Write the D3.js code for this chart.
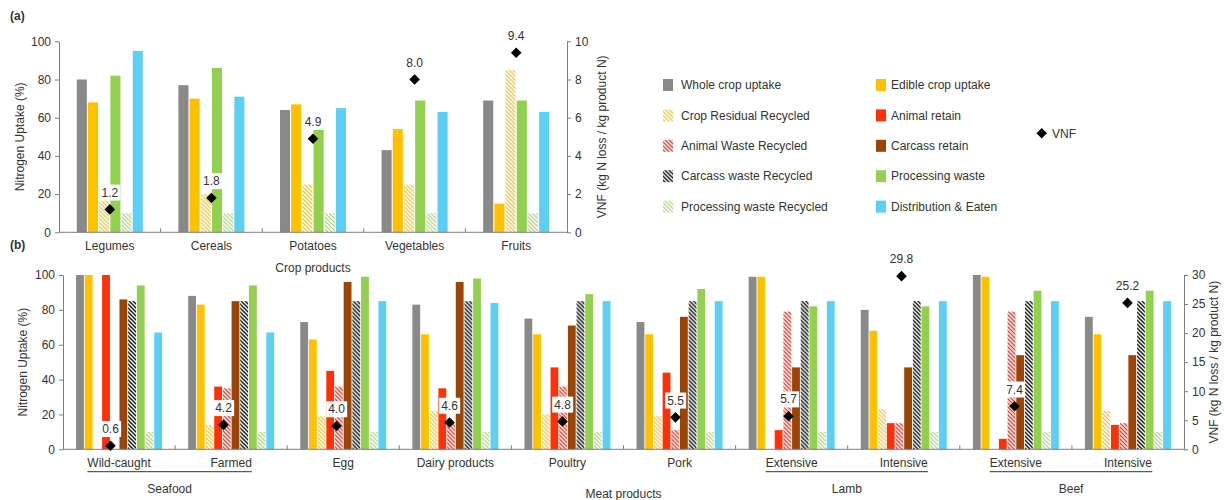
<!DOCTYPE html>
<html>
<head>
<meta charset="utf-8">
<script src="https://cdn.jsdelivr.net/npm/d3@7"></script>
<style>
  body { margin: 0; background: #fff; }
  text { font-family: "Liberation Sans", Arial, sans-serif; fill: #333; }
</style>
</head>
<body>
<svg id="chart" width="1224" height="500"></svg>
<script>
// ---- data: panel (a) crop products ----
const cropCategories = ["Legumes", "Cereals", "Potatoes", "Vegetables", "Fruits"];
const cropSeries = ["Whole crop uptake", "Edible crop uptake", "Crop Residual Recycled",
  "Processing waste", "Processing waste Recycled", "Distribution & Eaten"];
const cropWhole = [80, 77, 64, 43, 69];
const cropEdible = [68, 70, 67, 54, 15];
const cropResidual = [23, 20, 25, 25, 85];
const cropProcessing = [82, 86, 55, 69, 69];
const cropProcessingRecycled = [10, 10, 10, 10, 10];
const cropDistribution = [95, 71, 65, 63, 63];
const cropVNF = [1.2, 1.8, 4.9, 8.0, 9.4];

// ---- data: panel (b) animal products ----
const animalCategories = ["Wild-caught", "Farmed", "Egg", "Dairy products", "Poultry", "Pork",
  "Extensive", "Intensive", "Extensive", "Intensive"];
const animalSeries = ["Whole crop uptake", "Edible crop uptake", "Crop Residual Recycled",
  "Animal retain", "Animal Waste Recycled", "Carcass retain", "Carcass waste Recycled",
  "Processing waste", "Processing waste Recycled", "Distribution & Eaten"];
const animalWhole = [100, 88, 73, 83, 75, 73, 99, 80, 100, 76];
const animalEdible = [100, 83, 63, 66, 66, 66, 99, 68, 99, 66];
const animalResidual = [0, 14, 19, 22, 20, 19, 0, 23, 0, 22];
const animalRetain = [100, 36, 45, 35, 47, 44, 11, 15, 6, 14];
const animalWaste = [0, 35, 36, 15, 36, 11, 79, 15, 79, 15];
const carcassRetain = [86, 85, 96, 96, 71, 76, 47, 47, 54, 54];
const carcassWaste = [85, 85, 85, 85, 85, 85, 85, 85, 85, 85];
const animalProcessing = [94, 94, 99, 98, 89, 92, 82, 82, 91, 91];
const animalProcessingRecycled = [10, 10, 10, 10, 10, 10, 10, 10, 10, 10];
const animalDistribution = [67, 67, 85, 84, 85, 85, 85, 85, 85, 85];
const animalVNF = [0.6, 4.2, 4.0, 4.6, 4.8, 5.5, 5.7, 29.8, 7.4, 25.2];

const groupNames = ["Seafood", "Lamb", "Beef"];
const groupMembers = [[0, 1], [6, 7], [8, 9]];

// ---- tick labels ----
const percentTicks = [0, 20, 40, 60, 80, 100];
const cropVnfTicks = [0, 2, 4, 6, 8, 10];
const animalVnfTicks = [0, 5, 10, 15, 20, 25, 30];

// ---- styles ----
const svg = d3.select("#chart");
const defs = svg.append("defs");

function hatch(id, color, width) {
  const p = defs.append("pattern")
    .attr("id", id)
    .attr("patternUnits", "userSpaceOnUse")
    .attr("width", 4)
    .attr("height", 4);
  p.append("rect").attr("width", 4).attr("height", 4).attr("fill", "#fff");
  p.append("path")
    .attr("d", "M-1,-1L5,5M-1,3L1,5M3,-1L5,1")
    .attr("stroke", color)
    .attr("stroke-width", width);
}
hatch("h-crop", "#f2bd2a", 1.2);
hatch("h-animal", "#e8352a", 1.3);
hatch("h-carcass", "#1a1a1a", 1.5);
hatch("h-proc", "#a9cf7c", 1.2);

const fills = {
  "Whole crop uptake": "#898989",
  "Edible crop uptake": "#ffc000",
  "Crop Residual Recycled": "url(#h-crop)",
  "Animal retain": "#ff2f08",
  "Animal Waste Recycled": "url(#h-animal)",
  "Carcass retain": "#9a4408",
  "Carcass waste Recycled": "url(#h-carcass)",
  "Processing waste": "#92d050",
  "Processing waste Recycled": "url(#h-proc)",
  "Distribution & Eaten": "#5ccff5"
};

const diamond = d3.symbol(d3.symbolSquare, 56);

function drawPanel(cfg) {
  const n = cfg.categories.length;
  const idx = d3.range(n);
  const g = svg.append("g");

  const x0 = d3.scaleBand().domain(idx).range([cfg.left, cfg.right])
    .paddingInner(cfg.pad).paddingOuter(cfg.pad / 2);
  const x1 = d3.scaleBand().domain(cfg.series).range([0, x0.bandwidth()]).paddingInner(0.1);
  const xv = d3.scaleBand().domain(idx).range(cfg.vnfRange || [cfg.left, cfg.right]);
  const y = d3.scaleLinear().domain([0, 100]).range([cfg.bottom, cfg.top]);
  const yv = d3.scaleLinear().domain([0, cfg.vnfMax]).range([cfg.bottom, cfg.top]);

  const rows = idx.map(i => ({ i, vals: cfg.series.map((s, k) => ({ s, v: cfg.values[k][i] })) }));

  // bars
  g.selectAll(".grp")
    .data(rows)
    .enter()
    .append("g")
    .attr("transform", d => "translate(" + x0(d.i) + ",0)")
    .selectAll("rect")
    .data(d => d.vals.filter(e => e.v > 0))
    .enter()
    .append("rect")
    .attr("x", e => x1(e.s))
    .attr("y", e => y(e.v))
    .attr("width", x1.bandwidth())
    .attr("height", e => y(0) - y(e.v))
    .attr("fill", e => fills[e.s]);

  // left axis
  const ax = g.append("g")
    .attr("transform", "translate(" + cfg.left + ",0)")
    .call(d3.axisLeft(y).tickValues(percentTicks).tickSize(4).tickSizeOuter(0).tickPadding(4));
  // right axis
  const axr = g.append("g")
    .attr("transform", "translate(" + cfg.right + ",0)")
    .call(d3.axisRight(yv).tickValues(cfg.vnfTicks).tickSize(4).tickSizeOuter(0).tickPadding(4));
  [ax, axr].forEach(a => {
    a.selectAll("path, line").attr("stroke", "#7f7f7f");
    a.selectAll("text").style("font-size", "12px").attr("fill", "#333");
  });

  // bottom axis with separators between categories
  g.append("line")
    .attr("x1", cfg.left).attr("x2", cfg.right)
    .attr("y1", cfg.bottom).attr("y2", cfg.bottom)
    .attr("stroke", "#7f7f7f");
  g.selectAll(".sep")
    .data(d3.range(1, n))
    .enter()
    .append("line")
    .attr("x1", i => cfg.left + i * x0.step())
    .attr("x2", i => cfg.left + i * x0.step())
    .attr("y1", cfg.bottom - 4).attr("y2", cfg.bottom)
    .attr("stroke", "#7f7f7f");

  const catLabels = g.selectAll(".cat")
    .data(idx)
    .enter()
    .append("text")
    .attr("x", i => x0(i) + x0.bandwidth() / 2)
    .attr("y", cfg.bottom + 18)
    .attr("text-anchor", "middle")
    .style("font-size", "12px")
    .text(i => cfg.categories[i]);

  // axis titles
  g.append("text")
    .attr("transform", "translate(" + cfg.leftTitleX + "," + (cfg.top + cfg.bottom) / 2 + ") rotate(-90)")
    .attr("text-anchor", "middle")
    .style("font-size", "12px")
    .text("Nitrogen Uptake (%)");
  g.append("text")
    .attr("transform", "translate(" + cfg.rightTitleX + "," + (cfg.top + cfg.bottom) / 2 + ") rotate(-90)")
    .attr("text-anchor", "middle")
    .style("font-size", "12px")
    .text("VNF (kg N loss / kg product N)");
  g.append("text")
    .attr("x", (cfg.left + cfg.right) / 2)
    .attr("y", cfg.xTitleY)
    .attr("text-anchor", "middle")
    .style("font-size", "12px")
    .text(cfg.xTitle);

  // VNF labels and diamonds
  const cx = i => xv(i) + xv.bandwidth() / 2;
  const lab = g.selectAll(".vnf")
    .data(idx)
    .enter()
    .append("g")
    .attr("transform", i => "translate(" + cx(i) + "," + (yv(cfg.vnf[i]) - 17) + ")");
  lab.append("rect").attr("fill", "#fff");
  lab.append("text")
    .attr("text-anchor", "middle")
    .attr("dy", "0.35em")
    .style("font-size", "12px")
    .text(i => cfg.vnf[i].toFixed(1));
  lab.each(function () {
    const b = d3.select(this).select("text").node().getBBox();
    d3.select(this).select("rect")
      .attr("x", b.x - 2).attr("y", b.y - 1)
      .attr("width", b.width + 4).attr("height", b.height + 2);
  });
  g.selectAll(".dia")
    .data(idx)
    .enter()
    .append("path")
    .attr("d", diamond)
    .attr("transform", i => "translate(" + cx(i) + "," + yv(cfg.vnf[i]) + ") rotate(45)")
    .attr("fill", "#000");

  return { catLabels };
}

// (a)
drawPanel({
  categories: cropCategories,
  series: cropSeries,
  values: [cropWhole, cropEdible, cropResidual, cropProcessing, cropProcessingRecycled, cropDistribution],
  vnf: cropVNF,
  vnfMax: 10,
  vnfTicks: cropVnfTicks,
  left: 59, right: 567, top: 41.3, bottom: 232.3,
  pad: 0.35,
  leftTitleX: 24, rightTitleX: 606,
  xTitle: "Crop products", xTitleY: 272
});

// (b)
const pb = drawPanel({
  categories: animalCategories,
  series: animalSeries,
  values: [animalWhole, animalEdible, animalResidual, animalRetain, animalWaste,
    carcassRetain, carcassWaste, animalProcessing, animalProcessingRecycled, animalDistribution],
  vnf: animalVNF,
  vnfMax: 30,
  vnfTicks: animalVnfTicks,
  vnfRange: [54, 1184],
  left: 63, right: 1184, top: 275, bottom: 449.3,
  pad: 0.233,
  leftTitleX: 27, rightTitleX: 1218,
  xTitle: "Meat products", xTitleY: 498
});

// group brackets under category labels
const labelNodes = pb.catLabels.nodes();
groupNames.forEach((name, k) => {
  const first = labelNodes[groupMembers[k][0]].getBBox();
  const last = labelNodes[groupMembers[k][groupMembers[k].length - 1]].getBBox();
  svg.append("line")
    .attr("x1", first.x).attr("x2", last.x + last.width)
    .attr("y1", 471.7).attr("y2", 471.7)
    .attr("stroke", "#333");
  svg.append("text")
    .attr("x", (first.x + last.x + last.width) / 2)
    .attr("y", 493)
    .attr("text-anchor", "middle")
    .style("font-size", "12px")
    .text(name);
});

// panel letters
svg.append("text").attr("x", 10).attr("y", 20).style("font-size", "12px").style("font-weight", "bold").text("(a)");
svg.append("text").attr("x", 10).attr("y", 249).style("font-size", "12px").style("font-weight", "bold").text("(b)");

// legend
const legendCols = [
  ["Whole crop uptake", "Crop Residual Recycled", "Animal Waste Recycled", "Carcass waste Recycled", "Processing waste Recycled"],
  ["Edible crop uptake", "Animal retain", "Carcass retain", "Processing waste", "Distribution & Eaten"]
];
const legendX = [663, 876];
legendCols.forEach((col, c) => {
  const items = svg.selectAll(".leg" + c)
    .data(col)
    .enter()
    .append("g")
    .attr("transform", (d, r) => "translate(" + legendX[c] + "," + (85 + r * 30.4) + ")");
  items.append("rect")
    .attr("x", 0).attr("y", -6)
    .attr("width", 10).attr("height", 12)
    .attr("fill", d => fills[d]);
  items.append("text")
    .attr("x", 18 - (c === 1 ? 3 : 0))
    .attr("dy", "0.35em")
    .style("font-size", "12px")
    .text(d => d);
});
svg.append("path")
  .attr("d", diamond)
  .attr("transform", "translate(1041.7,133.3) rotate(45)")
  .attr("fill", "#000");
svg.append("text")
  .attr("x", 1052).attr("y", 133.3)
  .attr("dy", "0.35em")
  .style("font-size", "12px")
  .text("VNF");
</script>
</body>
</html>
